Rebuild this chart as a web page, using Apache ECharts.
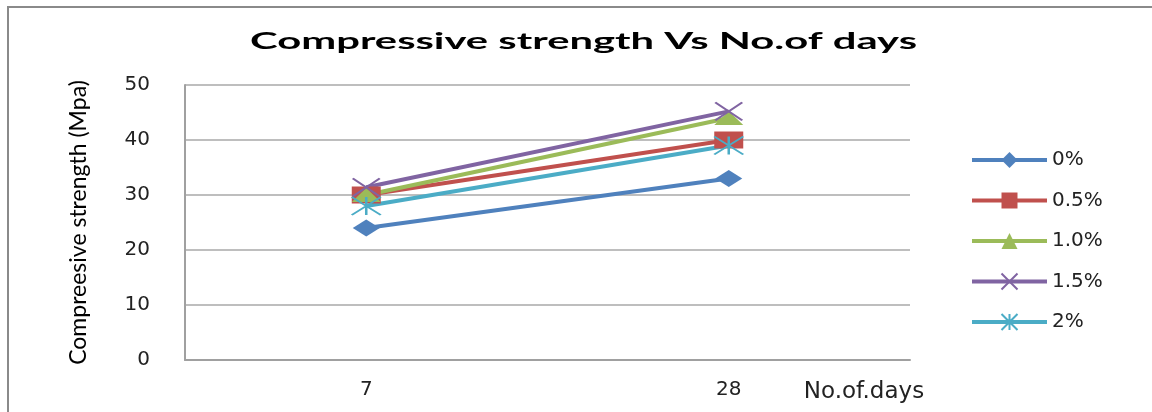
<!DOCTYPE html>
<html>
<head>
<meta charset="utf-8">
<script src="https://cdn.jsdelivr.net/npm/echarts@6/dist/echarts.min.js"></script>
<style>
html,body{margin:0;padding:0;background:#fff;}
#c{width:1152px;height:412px;}
</style>
</head>
<body>
<div id="c"></div>
<script>
const chartTitle = 'Compressive strength Vs No.of days';
const xAxisTitle = 'No.of.days';
const yAxisTitle = 'Compreesive strength (Mpa)';
const categories = ['7', '28'];
const seriesNames = ['0%', '0.5%', '1.0%', '1.5%', '2%'];
const s0 = [24, 33];
const s05 = [30, 40];
const s10 = [30, 44];
const s15 = [31.4, 45.2];
const s20 = [28, 39];
const yMin = 0, yMax = 50, yStep = 10;

const colors = ['#4F81BD', '#C0504D', '#9BBB59', '#8064A2', '#4BACC6'];
const symbols = ['diamond', 'rect', 'triangle',
  'path://M0,0L10,10M10,0L0,10',
  'path://M0,0L10,10M10,0L0,10M5,0L5,10'];
const symbolSizes = [[27, 17], [29, 17], [29, 14], [27, 18], [29, 18]];
const values = [s0, s05, s10, s15, s20];

// title stretched like the reference
const titleFont = 'bold 22px Lato';
const mctx = document.createElement('canvas').getContext('2d');
mctx.font = titleFont;
const titleW = mctx.measureText(chartTitle).width;
const titleScale = 667 / titleW;

const chart = echarts.init(document.getElementById('c'));
const series = seriesNames.map((n, i) => {
  const isStroke = i >= 3;
  return {
    name: n,
    type: 'line',
    data: values[i],
    symbol: symbols[i],
    symbolSize: symbolSizes[i],
    showAllSymbol: true,
    lineStyle: { color: colors[i], width: 4 },
    itemStyle: isStroke
      ? { color: colors[i], borderColor: colors[i], borderWidth: 2 }
      : { color: colors[i], borderWidth: 0 },
    emphasis: { disabled: true },
    animation: false
  };
});

chart.setOption({
  backgroundColor: '#ffffff',
  animation: false,
  graphic: [
    {
      type: 'rect', silent: true, z: -10,
      shape: { x: 8, y: 7, width: 1200, height: 500 },
      style: { fill: 'none', stroke: '#8a8a8a', lineWidth: 2 }
    },
    {
      type: 'text', silent: true,
      x: 583.5, y: 42, scaleX: titleScale,
      style: { text: chartTitle, font: titleFont, fill: '#000', textAlign: 'center', textVerticalAlign: 'middle' }
    }
  ],
  grid: { left: 185, top: 85, right: 242, bottom: 52, containLabel: false },
  legend: {
    orient: 'vertical',
    left: 965, top: 145,
    itemWidth: 75, itemHeight: 20, itemGap: 20.5,
    lineStyle: { width: 4 },
    textStyle: { fontFamily: 'DejaVu Sans', fontSize: 20, color: '#222' },
    data: seriesNames
  },
  xAxis: {
    type: 'category',
    data: categories,
    boundaryGap: true,
    axisLine: { lineStyle: { color: '#a0a0a0', width: 2 } },
    axisTick: { show: false },
    axisLabel: { fontFamily: 'DejaVu Sans', fontSize: 20, color: '#222', margin: 20 },
    name: xAxisTitle,
    nameLocation: 'end',
    nameGap: -46,
    nameTextStyle: { fontFamily: 'DejaVu Sans', fontSize: 23, color: '#222', align: 'center', verticalAlign: 'top', padding: [21, 0, 0, 0] }
  },
  yAxis: {
    type: 'value',
    min: yMin, max: yMax, interval: yStep,
    axisLine: { show: true, lineStyle: { color: '#a0a0a0', width: 2 } },
    axisTick: { show: false },
    splitLine: { lineStyle: { color: '#a8a8a8', width: 1.5 } },
    axisLabel: { fontFamily: 'DejaVu Sans', fontSize: 20, color: '#222', margin: 35 },
    name: yAxisTitle,
    nameLocation: 'middle',
    nameGap: 95,
    nameTextStyle: { fontFamily: 'Lato', fontSize: 23, color: '#000' }
  },
  series: series
});
</script>
</body>
</html>
